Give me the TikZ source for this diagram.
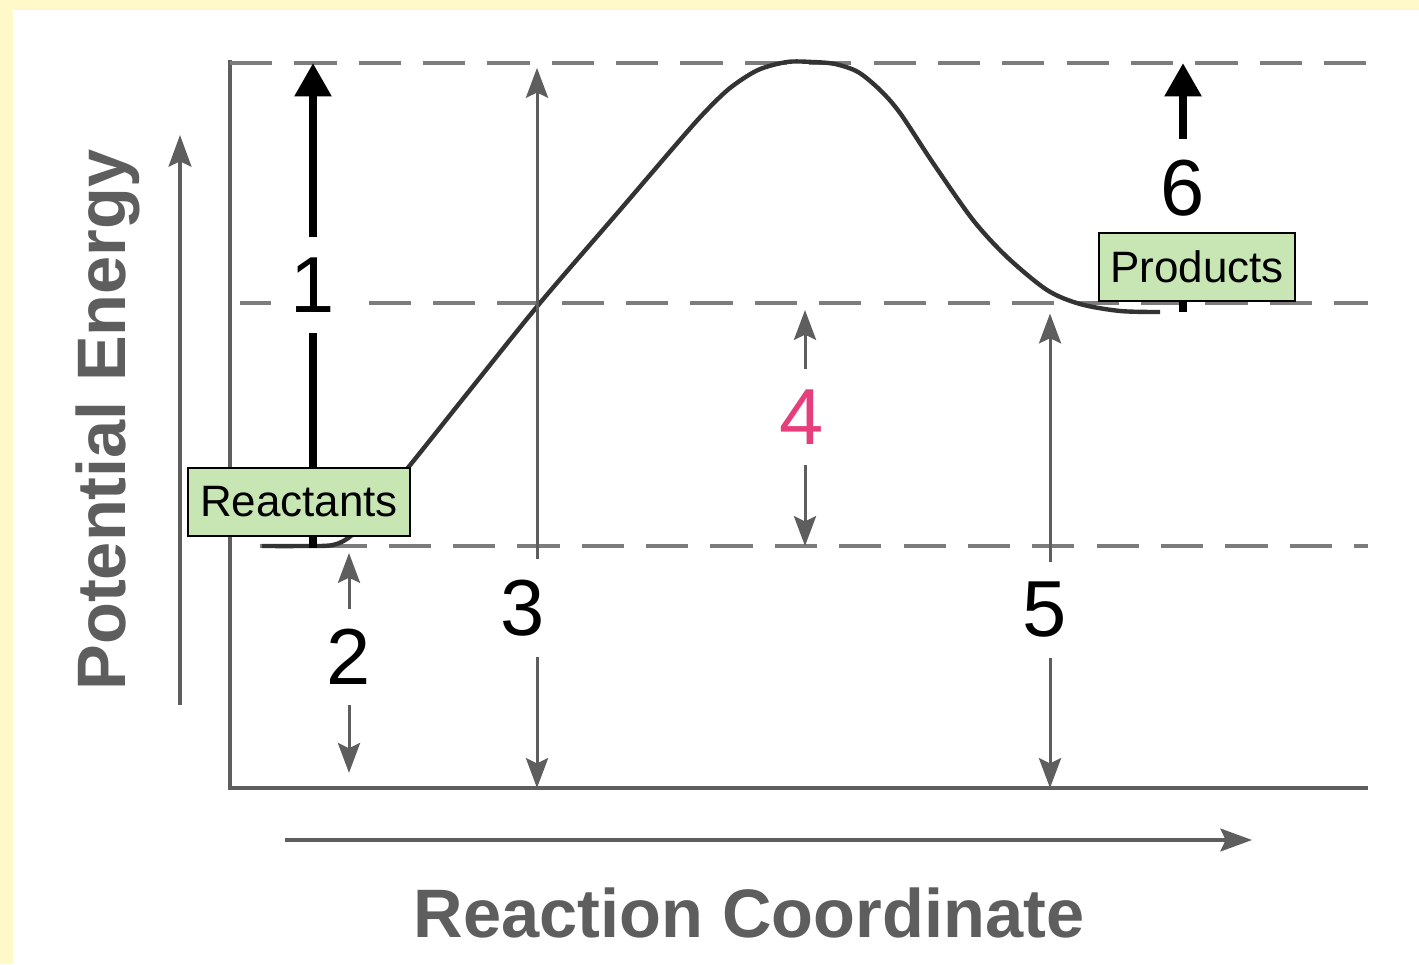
\documentclass[tikz,border=0pt]{standalone}
\usepackage{fontspec}
\setmainfont{Liberation Sans}
\usetikzlibrary{arrows.meta}
\definecolor{paper}{HTML}{FFF8C8}
\definecolor{leaf}{HTML}{C8E6B4}
\definecolor{rose}{HTML}{E63E7C}
\definecolor{ink}{HTML}{333333}
\definecolor{pencil}{HTML}{5E5E5E}
\definecolor{ash}{HTML}{7C7C7C}
\newcommand{\numfont}{\fontsize{22.6}{26}\selectfont}
\newcommand{\axisfont}{\fontsize{19.5}{23}\selectfont\bfseries}
\tikzset{
  guide/.style={draw=ash, line width=0.9pt, dash pattern=on 12pt off 6.3pt},
  axisline/.style={draw=pencil, line width=0.9pt},
  axisarrow/.style={-{Stealth[length=9pt, width=6.5pt, inset=1.5pt]}, draw=pencil, line width=0.9pt},
  gauge/.style={{Stealth[length=8.5pt, width=6.3pt, inset=1.5pt]}-{Stealth[length=8.5pt, width=6.3pt, inset=1.5pt]},
                draw=pencil, fill=pencil, line width=0.85pt},
  bigarrow/.style={-{Triangle[length=9.5pt, width=10pt]}, draw=black, line width=2.3pt},
  energy/.style={draw=ink, line width=1.25pt},
  tag/.style={rectangle, draw=black, fill=leaf, line width=0.6pt, inner xsep=3.3pt, inner ysep=0pt,
              minimum height=19.3pt, font=\fontsize{12.5}{15}\selectfont},
  num/.style={fill=white, inner sep=5.8pt, font=\numfont},
  axislbl/.style={text=pencil, font=\axisfont}
}

\begin{document}
\begin{tikzpicture}[x=0.01cm, y=-0.01cm]
 \useasboundingbox (0,0) rectangle (1419,964);
 \fill[paper] (0,0) rectangle (1419,964);
 \fill[white] (13,10) rectangle (1419,964);

 % levels and frame
 \coordinate (origin) at (230,788);
 \coordinate (ytop) at (230,60);
 \coordinate (xend) at (1368,788);
 \coordinate (peak) at (230,63);
 \coordinate (prod) at (240,303);
 \coordinate (reac) at (260,546);
 \draw[axisline] (ytop) -- (origin) -- (xend);
 \draw[guide] (peak) -- (peak -| xend);
 \draw[guide] (prod) -- (prod -| xend);
 \draw[guide] (reac) -- (reac -| xend);

 % axis arrows
 \coordinate (pe0) at (180,705);
 \coordinate (pe1) at (180,135);
 \coordinate (rc0) at (285,840);
 \coordinate (rc1) at (1252,840);
 \draw[axisarrow] (pe0) -- (pe1);
 \draw[axisarrow] (rc0) -- (rc1);
 \node[axislbl, rotate=90] (ylbl) at (108,420) {Potential Energy};
 \node[axislbl] (xlbl) at (749,913) {Reaction Coordinate};

 % energy curve
 \draw[energy] plot[smooth] coordinates {(262,546) (300,546) (333,545) (352,535) (372,511) (392,486)
   (411,464) (470,390) (540,303) (620,210) (680,140) (705,112) (730,88) (758,70) (787,62) (812,62)
   (835,64) (858,72) (880,90) (900,113) (933,163) (973,220) (1007,257) (1047,290) (1080,304)
   (1120,311) (1160,312)};

 % gauges
 \coordinate (a1) at (313,548);
 \coordinate (a2) at (349,546);
 \coordinate (a3) at (537,788);
 \coordinate (a4) at (805,303);
 \coordinate (a5) at (1050,788);
 \coordinate (a6) at (1183,312);
 \draw[gauge, shorten <=2pt, shorten >=4.3pt] (a2) -- (a2 |- origin);
 \draw[gauge, shorten >=1.4pt] (a3) -- (a3 |- peak);
 \draw[gauge, shorten <=2pt] (a4) -- (a4 |- reac);
 \draw[gauge, shorten >=3pt] (a5) -- (a5 |- prod);
 \draw[bigarrow] (a1) -- (a1 |- peak);
 \draw[bigarrow] (a6) -- (a6 |- peak);

 \node[num] (n1) at (313,285) {1};
 \node[num] (n2) at (349,657) {2};
 \node[num] (n3) at (523,608) {3};
 \node[num, text=rose] (n4) at (802,417) {4};
 \node[num] (n5) at (1045,610) {5};
 \node[num] (n6) at (1183,188) {6};

 \node[tag] (reactants) at (299,502) {Reactants};
 \node[tag] (products) at (1197,267) {Products};
\end{tikzpicture}
\end{document}
